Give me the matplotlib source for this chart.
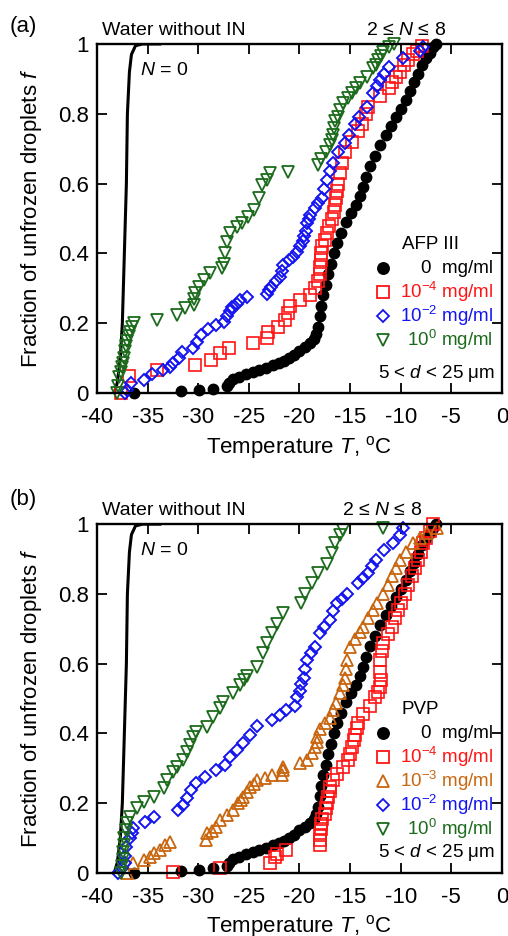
import matplotlib
matplotlib.use("Agg")
import matplotlib.pyplot as plt
from matplotlib.ticker import FixedLocator, FixedFormatter

plt.rcParams['font.family'] = ['Liberation Sans', 'DejaVu Sans']
plt.rcParams['mathtext.fontset'] = 'custom'
plt.rcParams['mathtext.rm'] = 'Liberation Sans'
plt.rcParams['mathtext.it'] = 'Liberation Sans:italic'
plt.rcParams['axes.unicode_minus'] = False

# water without IN (N = 0)
water_T = [-38.3, -38.0, -37.7, -37.5, -37.3, -37.1, -37.0, -36.8, -36.6, -36.2, -35.5, -33.8]
water_f = [0.0, 0.03, 0.1, 0.2, 0.4, 0.6, 0.8, 0.92, 0.97, 0.995, 1.0, 1.0]

# 0 mg/ml (control, same in both panels)
ctrl_T = [-36.3, -31.7, -29.9, -28.5, -27.2, -27.0, -26.6, -26.0, -25.3, -24.6, -24.0, -23.3,
          -22.6, -22.0, -21.5, -21.0, -20.5, -20.0, -19.5, -19.0, -18.6, -18.4, -18.2, -18.0,
          -17.9, -17.7, -17.4, -17.2, -16.9, -16.6, -16.3, -15.9, -15.4, -14.9, -14.4, -14.0,
          -13.7, -13.4, -13.0, -12.5, -12.0, -11.5, -11.0, -10.5, -10.0, -9.5, -9.1, -8.7,
          -8.3, -7.9, -7.5, -7.1, -6.8, -6.5]
ctrl_f = [0.0, 0.007, 0.01, 0.013, 0.02, 0.03, 0.04, 0.047, 0.055, 0.06, 0.067, 0.073,
          0.08, 0.087, 0.093, 0.10, 0.11, 0.122, 0.133, 0.143, 0.155, 0.17, 0.19, 0.22,
          0.25, 0.28, 0.31, 0.34, 0.37, 0.40, 0.43, 0.46, 0.49, 0.515, 0.54, 0.565,
          0.59, 0.62, 0.65, 0.68, 0.71, 0.74, 0.765, 0.79, 0.815, 0.84, 0.865, 0.89,
          0.915, 0.94, 0.96, 0.975, 0.99, 1.0]

# AFP III
afp_m4_T = [-37.6, -36.8, -34.1, -30.3, -28.7, -27.9, -27.0, -24.6, -23.2, -23.1, -22.1, -21.4,
            -21.1, -20.9, -19.95, -19.0, -18.5, -18.2, -18.0, -18.0, -17.9, -17.9, -17.8, -17.5,
            -17.3, -17.1, -16.8, -16.6, -16.5, -16.4, -16.3, -16.2, -16.0, -15.8, -15.5, -14.8,
            -14.2, -13.8, -13.4, -13.2, -12.0, -11.2, -10.9, -10.5, -10.1, -9.7, -9.3, -8.8,
            -8.4, -7.9]
afp_m4_f = [0.0, 0.05, 0.066, 0.08, 0.095, 0.114, 0.13, 0.143, 0.157, 0.175, 0.19, 0.21,
            0.23, 0.25, 0.266, 0.28, 0.30, 0.32, 0.34, 0.36, 0.38, 0.40, 0.42, 0.44,
            0.46, 0.48, 0.50, 0.52, 0.54, 0.56, 0.58, 0.60, 0.63, 0.66, 0.69, 0.72,
            0.75, 0.77, 0.80, 0.82, 0.85, 0.875, 0.89, 0.905, 0.92, 0.94, 0.955, 0.97,
            0.98, 0.995]

afp_m2_T = [-37.2, -37.0, -36.6, -35.4, -34.6, -33.5, -32.8, -32.5, -31.9, -31.6, -30.5, -30.1,
            -29.7, -29.0, -28.2, -27.5, -27.2, -26.9, -26.7, -26.2, -25.9, -25.2, -23.2, -23.0,
            -22.8, -22.3, -21.9, -21.7, -21.6, -21.0, -20.6, -20.2, -19.9, -19.7, -19.6, -19.4,
            -19.3, -19.1, -19.0, -18.5, -18.2, -17.8, -17.6, -17.3, -17.0, -16.7, -16.2, -15.5,
            -15.1, -14.5, -14.1, -13.3, -12.7, -12.3, -12.0, -11.6, -11.2, -9.8, -8.1, -7.8]
afp_m2_f = [0.0, 0.01, 0.03, 0.037, 0.056, 0.066, 0.075, 0.085, 0.10, 0.117, 0.13, 0.145,
            0.166, 0.185, 0.195, 0.205, 0.22, 0.235, 0.246, 0.256, 0.266, 0.276, 0.285, 0.295,
            0.305, 0.32, 0.333, 0.35, 0.366, 0.38, 0.39, 0.405, 0.42, 0.435, 0.45, 0.465,
            0.486, 0.50, 0.51, 0.53, 0.545, 0.56, 0.585, 0.61, 0.635, 0.66, 0.69, 0.716,
            0.74, 0.77, 0.79, 0.82, 0.86, 0.88, 0.897, 0.915, 0.934, 0.96, 0.98, 0.99]

afp_0_T = [-38.0, -37.9, -37.8, -37.6, -37.5, -37.4, -37.3, -37.2, -37.1, -37.0, -36.8, -36.7,
           -36.5, -36.3, -34.1, -32.1, -31.3, -30.4, -30.4, -30.3, -29.9, -29.4, -28.8, -27.7,
           -27.5, -27.4, -27.2, -26.9, -26.2, -25.7, -25.1, -24.5, -24.0, -23.7, -23.2, -22.9,
           -21.1, -18.2, -17.9, -17.4, -17.0, -16.8, -16.7, -16.6, -16.5, -16.2, -16.0, -15.7,
           -15.2, -14.8, -14.4, -14.0, -13.3, -12.7, -12.4, -12.2, -11.9, -11.7, -11.2, -10.7]
afp_0_f = [0.0, 0.02, 0.045, 0.06, 0.075, 0.085, 0.10, 0.12, 0.135, 0.15, 0.165, 0.175,
           0.19, 0.20, 0.21, 0.223, 0.243, 0.252, 0.27, 0.286, 0.305, 0.324, 0.344, 0.358,
           0.37, 0.40, 0.433, 0.458, 0.475, 0.487, 0.505, 0.524, 0.56, 0.596, 0.61, 0.63,
           0.633, 0.653, 0.67, 0.69, 0.71, 0.725, 0.74, 0.76, 0.78, 0.79, 0.81, 0.83,
           0.845, 0.86, 0.875, 0.888, 0.906, 0.93, 0.94, 0.954, 0.965, 0.978, 0.99, 1.0]

# PVP
pvp_m4_T = [-32.5, -27.9, -22.9, -22.4, -22.2, -21.3, -18.0, -18.0, -17.95, -17.9, -17.85, -17.8,
            -17.5, -17.4, -17.3, -17.2, -17.0, -17.0, -16.7, -16.3, -15.7, -15.2, -15.0, -14.8,
            -14.6, -14.5, -14.3, -14.2, -13.7, -13.0, -12.5, -12.2, -12.0, -11.9, -12.0, -12.0,
            -11.8, -11.7, -11.3, -10.9, -10.6, -10.3, -10.0, -9.6, -9.3, -8.9, -8.6, -8.3,
            -8.0, -7.8, -7.5, -7.1, -6.8]
pvp_m4_f = [0.003, 0.014, 0.028, 0.046, 0.055, 0.066, 0.08, 0.095, 0.11, 0.125, 0.14, 0.155,
            0.17, 0.185, 0.20, 0.218, 0.235, 0.247, 0.266, 0.285, 0.304, 0.323, 0.34, 0.36,
            0.38, 0.395, 0.415, 0.43, 0.457, 0.48, 0.505, 0.52, 0.533, 0.553, 0.575, 0.61,
            0.635, 0.66, 0.685, 0.705, 0.73, 0.754, 0.775, 0.80, 0.825, 0.85, 0.875, 0.897,
            0.92, 0.945, 0.96, 0.98, 1.0]

pvp_m3_T = [-37.0, -36.4, -35.4, -34.8, -34.4, -33.8, -33.3, -32.8, -29.2, -29.1, -28.6, -28.2,
            -27.9, -27.2, -26.6, -26.1, -25.8, -25.6, -25.2, -24.9, -24.5, -24.2, -23.4, -22.7,
            -21.7, -21.6, -21.6, -19.95, -19.3, -18.8, -18.5, -18.3, -18.3, -18.0, -17.5, -17.0,
            -16.7, -16.4, -16.0, -15.7, -15.5, -15.4, -15.3, -15.0, -14.5, -14.0, -13.7, -13.2,
            -12.7, -12.3, -11.7, -11.3, -10.9, -10.5, -10.1, -9.5, -8.8, -8.1, -7.4, -6.4]
pvp_m3_f = [0.0, 0.03, 0.037, 0.046, 0.056, 0.066, 0.08, 0.09, 0.095, 0.114, 0.12, 0.132,
            0.152, 0.166, 0.18, 0.20, 0.21, 0.218, 0.232, 0.247, 0.256, 0.266, 0.271, 0.28,
            0.28, 0.295, 0.304, 0.314, 0.323, 0.343, 0.36, 0.375, 0.39, 0.414, 0.43, 0.443,
            0.467, 0.487, 0.515, 0.54, 0.56, 0.585, 0.61, 0.648, 0.67, 0.69, 0.705, 0.73,
            0.754, 0.775, 0.80, 0.825, 0.85, 0.875, 0.897, 0.92, 0.945, 0.96, 0.974, 0.99]

pvp_m2_T = [-37.9, -37.5, -37.2, -37.2, -37.1, -36.7, -36.5, -36.4, -35.3, -34.4, -32.0, -31.5,
            -31.1, -30.7, -30.2, -29.3, -28.2, -27.4, -26.9, -26.2, -25.6, -24.9, -24.2, -22.7,
            -21.9, -21.3, -20.4, -20.2, -19.95, -19.8, -19.6, -19.5, -19.3, -18.9, -18.5, -18.0,
            -17.6, -17.0, -16.7, -16.3, -15.8, -15.3, -14.2, -13.7, -13.2, -12.8, -12.4, -11.6,
            -10.8, -10.1, -9.8]
pvp_m2_f = [0.0, 0.015, 0.03, 0.05, 0.075, 0.10, 0.115, 0.13, 0.146, 0.16, 0.18, 0.195,
            0.214, 0.237, 0.257, 0.276, 0.295, 0.31, 0.333, 0.352, 0.372, 0.395, 0.42, 0.438,
            0.452, 0.467, 0.48, 0.505, 0.523, 0.543, 0.56, 0.585, 0.61, 0.63, 0.648, 0.687,
            0.705, 0.725, 0.75, 0.773, 0.785, 0.80, 0.83, 0.845, 0.86, 0.88, 0.897, 0.925,
            0.945, 0.97, 0.99]

pvp_0_T = [-37.6, -37.5, -37.4, -37.4, -37.3, -37.3, -37.1, -37.0, -36.7, -36.1, -35.4, -34.4,
           -33.4, -33.1, -32.5, -32.1, -31.5, -31.1, -30.8, -30.5, -30.2, -29.1, -28.5, -27.9,
           -27.6, -26.6, -25.9, -25.5, -25.2, -24.2, -23.6, -23.2, -22.7, -22.2, -21.6, -19.8,
           -19.5, -18.8, -18.2, -17.3, -16.8, -16.5, -16.0, -15.7, -11.7]
pvp_0_f = [0.0, 0.02, 0.04, 0.06, 0.08, 0.10, 0.123, 0.143, 0.16, 0.186, 0.204, 0.218,
           0.243, 0.266, 0.29, 0.304, 0.323, 0.347, 0.366, 0.39, 0.404, 0.419, 0.447, 0.472,
           0.49, 0.515, 0.538, 0.553, 0.565, 0.59, 0.63, 0.66, 0.687, 0.715, 0.745, 0.773,
           0.80, 0.83, 0.86, 0.887, 0.916, 0.945, 0.97, 0.983, 0.99]

RED = '#ff1414'
BLUE = '#1414f0'
GREEN = '#1c6b1c'
ORANGE = '#c8660f'


def style_axes(ax):
    ax.set_xlim(-40, 0)
    ax.set_ylim(0, 1)
    ax.xaxis.set_major_locator(FixedLocator(range(-40, 1, 5)))
    ax.yaxis.set_major_locator(FixedLocator([0, 0.2, 0.4, 0.6, 0.8, 1.0]))
    ax.yaxis.set_major_formatter(FixedFormatter(['0', '0.2', '0.4', '0.6', '0.8', '1']))
    ax.tick_params(direction='in', length=7, width=1.3, labelsize=16,
                   top=True, right=True, pad=6)
    ax.tick_params(axis='x', pad=10)
    for sp in ax.spines.values():
        sp.set_linewidth(1.7)
    ax.set_xlabel('Temperature $T$, $^{\\rm o}$C', fontsize=16, labelpad=4)
    ax.set_ylabel('Fraction of unfrozen droplets $f$', fontsize=16)
    ax.yaxis.set_label_coords(-0.13, 0.5)
    ax.text(0.19, 1.04, 'Water without IN', transform=ax.transAxes, fontsize=14,
            ha='center', va='center')
    ax.text(0.105, 0.925, '$N$ = 0', transform=ax.transAxes, fontsize=14,
            ha='left', va='center')


def legend_entries(ax, title, entries, y0, dy, y_size):
    ax.text(0.753, y0 + dy * 0.98, title, transform=ax.transAxes, fontsize=13.5,
            ha='left', va='center')
    for i, (mk, fc, ec, col, lab, ms) in enumerate(entries):
        y = y0 - i * dy
        ax.plot([0.706], [y], marker=mk, ms=ms, mfc=fc, mec=ec, mew=1.3,
                transform=ax.transAxes, linestyle='none')
        ax.text(0.978, y, lab, transform=ax.transAxes, fontsize=13.5,
                ha='right', va='center', color=col)
    ax.text(0.983, y_size, '5 < $d$ < 25 μm', transform=ax.transAxes,
            fontsize=13.5, ha='right', va='center')


fig = plt.figure(figsize=(5.08, 9.36), dpi=100)
ax1 = fig.add_axes([0.191, 0.580, 0.797, 0.373])
ax2 = fig.add_axes([0.191, 0.0673, 0.797, 0.3727])

# panel (a)
ax1.plot(water_T, water_f, color='black', lw=2.2)
ax1.plot(ctrl_T, ctrl_f, 'o', ms=7.5, color='black', clip_on=False)
ax1.plot(afp_m4_T, afp_m4_f, 's', ms=8, mfc='none', mec=RED, mew=1.2, clip_on=False)
ax1.plot(afp_m2_T, afp_m2_f, 'D', ms=6, mfc='none', mec=BLUE, mew=1.4, clip_on=False)
ax1.plot(afp_0_T, afp_0_f, 'v', ms=9, mfc='none', mec=GREEN, mew=1.3, clip_on=False)
style_axes(ax1)
ax1.text(0.763, 1.04, '2 ≤ $N$ ≤ 8', transform=ax1.transAxes, fontsize=14,
         ha='center', va='center')
legend_entries(ax1, 'AFP III', [
    ('o', 'black', 'black', 'black', '0  mg/ml', 8),
    ('s', 'none', RED, RED, '10$^{-4}$ mg/ml', 8),
    ('D', 'none', BLUE, BLUE, '10$^{-2}$ mg/ml', 6),
    ('v', 'none', GREEN, GREEN, '10$^{0}$ mg/ml', 8.5),
], 0.358, 0.0687, 0.057)
fig.text(0.045, 0.972, '(a)', fontsize=16, ha='center', va='center')

# panel (b)
ax2.plot(water_T, water_f, color='black', lw=2.2)
ax2.plot(ctrl_T, ctrl_f, 'o', ms=7.5, color='black', clip_on=False)
ax2.plot(pvp_m4_T, pvp_m4_f, 's', ms=8, mfc='none', mec=RED, mew=1.2, clip_on=False)
ax2.plot(pvp_m3_T, pvp_m3_f, '^', ms=8.5, mfc='none', mec=ORANGE, mew=1.3, clip_on=False)
ax2.plot(pvp_m2_T, pvp_m2_f, 'D', ms=6, mfc='none', mec=BLUE, mew=1.4, clip_on=False)
ax2.plot(pvp_0_T, pvp_0_f, 'v', ms=9, mfc='none', mec=GREEN, mew=1.3, clip_on=False)
style_axes(ax2)
ax2.text(0.704, 1.04, '2 ≤ $N$ ≤ 8', transform=ax2.transAxes, fontsize=14,
         ha='center', va='center')
legend_entries(ax2, 'PVP', [
    ('o', 'black', 'black', 'black', '0  mg/ml', 8),
    ('s', 'none', RED, RED, '10$^{-4}$ mg/ml', 8),
    ('^', 'none', ORANGE, ORANGE, '10$^{-3}$ mg/ml', 8.5),
    ('D', 'none', BLUE, BLUE, '10$^{-2}$ mg/ml', 6),
    ('v', 'none', GREEN, GREEN, '10$^{0}$ mg/ml', 8.5),
], 0.401, 0.0687, 0.06)
fig.text(0.045, 0.466, '(b)', fontsize=16, ha='center', va='center')

fig.savefig('out.png', dpi=100)
